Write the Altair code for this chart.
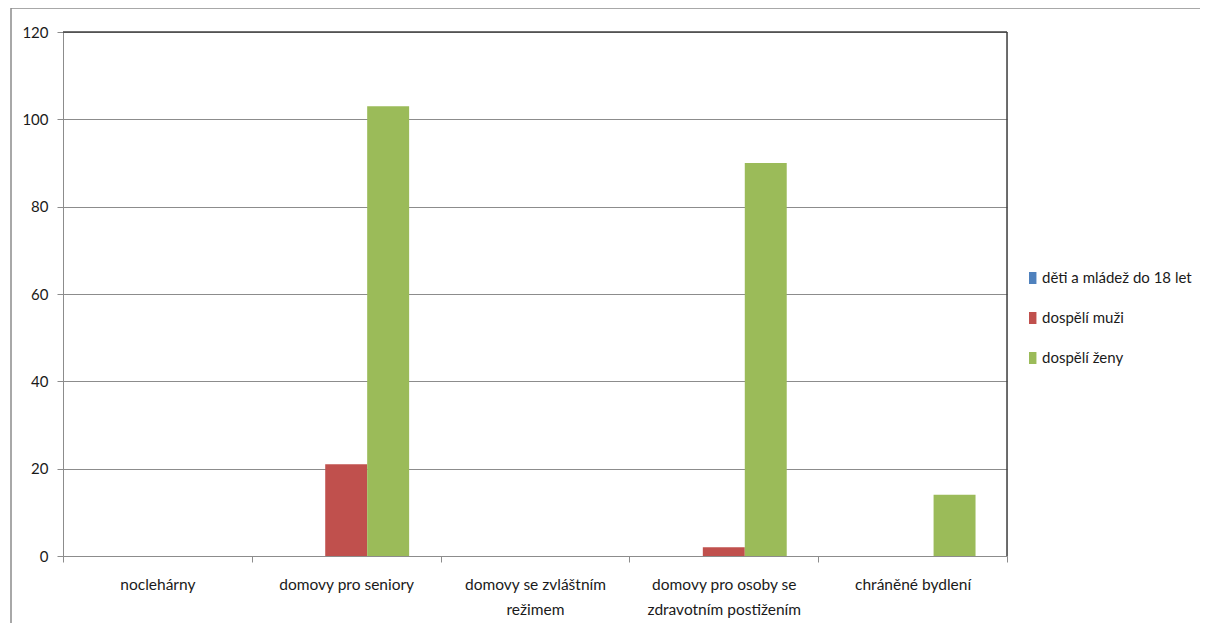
import altair as alt
import pandas as pd

categories = ["noclehárny", "domovy pro seniory", "domovy se zvláštním režimem",
              "domovy pro osoby se zdravotním postižením", "chráněné bydlení"]
series = ["děti a mládež do 18 let", "dospělí muži", "dospělí ženy"]
deti = [0, 0, 0, 0, 0]
muzi = [0, 21, 0, 2, 0]
zeny = [0, 103, 0, 90, 14]
colors = ["#4F81BD", "#C0504D", "#9BBB59"]
y_ticks = [0, 20, 40, 60, 80, 100, 120]

rows = []
for s, vals in zip(series, [deti, muzi, zeny]):
    for c, v in zip(categories, vals):
        rows.append({"kategorie": c, "skupina": s, "pocet": v})
df = pd.DataFrame(rows)

FONT = "Lato"
W, H = 944, 524

label_expr = (
    "datum.label == 'domovy se zvláštním režimem' ? ['domovy se zvláštním', 'režimem'] : "
    "datum.label == 'domovy pro osoby se zdravotním postižením' ? ['domovy pro osoby se', 'zdravotním postižením'] : "
    "datum.label"
)

x_enc = alt.X("kategorie:N", sort=categories,
              scale=alt.Scale(paddingInner=0, paddingOuter=0),
              axis=alt.Axis(title=None, labelAngle=0, tickBand="extent",
                            domainColor="#8c8c8c", tickColor="#8c8c8c", tickSize=6,
                            labelPadding=15, labelExpr=label_expr,
                            labelLineHeight=25, labelFontSize=15.5, labelLimit=300,
                            labelFont=FONT, labelColor="#1a1a1a", grid=False))

bars = alt.Chart(df).mark_bar().encode(
    x=x_enc,
    xOffset=alt.XOffset("skupina:N", sort=series,
                        scale=alt.Scale(paddingInner=0, paddingOuter=0.75)),
    y=alt.Y("pocet:Q", scale=alt.Scale(domain=[0, 120], nice=False),
            axis=alt.Axis(title=None, values=y_ticks, grid=True, gridColor="#8c8c8c",
                          gridWidth=1, domainColor="#8c8c8c", tickColor="#8c8c8c",
                          tickSize=6, labelPadding=9, labelFontSize=15,
                          labelFont=FONT, labelColor="#1a1a1a")),
    color=alt.Color("skupina:N", sort=series,
                    scale=alt.Scale(domain=series, range=colors),
                    legend=alt.Legend(title=None, orient="none", legendX=954, legendY=234,
                                      symbolType="M0,-0.5H0.62V0.5H0Z",
                                      symbolSize=576, symbolStrokeWidth=0,
                                      rowPadding=20, labelFontSize=15, labelFont=FONT,
                                      labelLimit=300,
                                      labelColor="#1a1a1a", labelOffset=1)),
)

top_rule = alt.Chart(pd.DataFrame({"v": [120]})).mark_rule(color="#404040", strokeWidth=1.5).encode(
    y=alt.Y("v:Q"), x=alt.value(0), x2=alt.value(W)
)
right_rule = alt.Chart(pd.DataFrame({"v": [0]})).mark_rule(color="#404040", strokeWidth=1.5).encode(
    x=alt.value(W), y=alt.value(0), y2=alt.value(H)
)
frame = alt.Chart(pd.DataFrame({"v": [0]})).mark_rect(
    fill=None, stroke="#8c8c8c", strokeWidth=1.5
).encode(x=alt.value(-52), x2=alt.value(1250), y=alt.value(-24), y2=alt.value(700))

chart = alt.layer(frame, bars, top_rule, right_rule).properties(
    width=W, height=H,
    autosize=alt.AutoSizeParams(type="none"),
    padding={"left": 55, "top": 24, "right": 193, "bottom": 67},
).configure_view(stroke=None).configure(background="white")

chart.save("out.html", embed_options={"renderer": "svg", "actions": False})
